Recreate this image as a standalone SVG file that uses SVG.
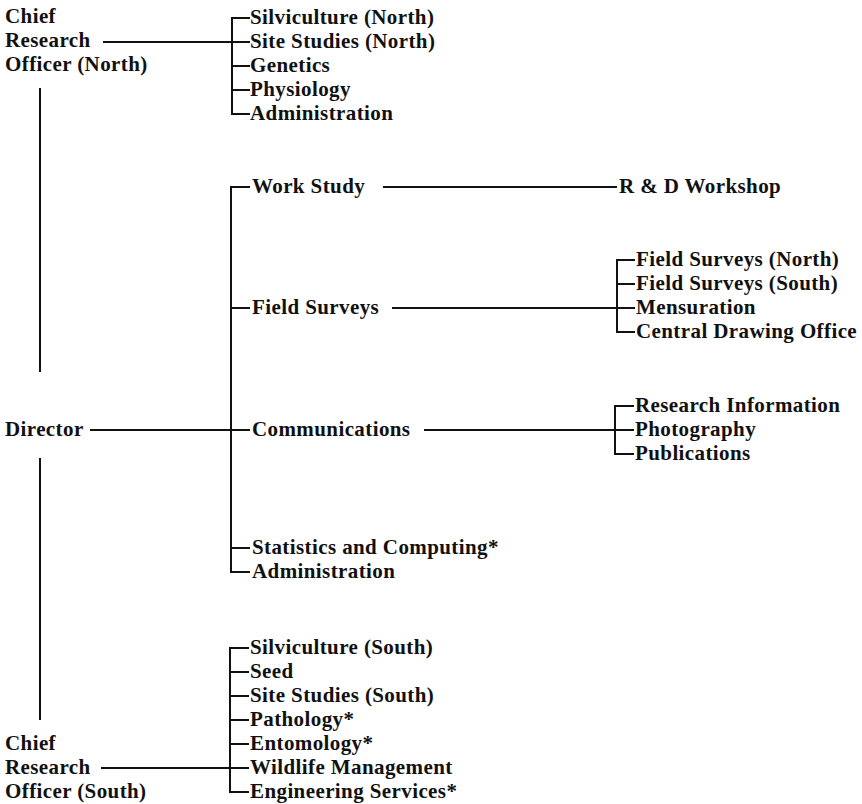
<svg xmlns="http://www.w3.org/2000/svg" width="862" height="804" viewBox="0 0 862 804">
<style>
text{font-family:"Liberation Serif","Times New Roman",serif;font-weight:bold;font-size:21px;letter-spacing:0.4px;fill:#111}
.c{stroke:#111;stroke-width:2;fill:none}
</style>
<rect width="862" height="804" fill="#fff"/>
<g id="connectors" class="c">
<path d="M40 88V372M40 458V720"/>
<path d="M103 42H232M250 18H232V114H250M232 42H250M232 66H250M232 90H250"/>
<path d="M90 430H231M250 187H231V572H250M231 308H250M231 430H250M231 548H250"/>
<path d="M383 187H617"/>
<path d="M392 308H617M635 260H617V332H635M617 284H635M617 308H635"/>
<path d="M424 430H615M634 406H615V454H634M615 430H634"/>
<path d="M101 768H230M249 648H230V792H249M230 672H249M230 696H249M230 720H249M230 744H249M230 768H249"/>
</g>
<g id="cro-north"><text x="5" y="23">Chief</text><text x="5" y="47">Research</text><text x="5" y="71">Officer (North)</text></g>
<g id="north-units"><text x="250" y="24">Silviculture (North)</text><text x="250" y="48">Site Studies (North)</text><text x="250" y="72">Genetics</text><text x="250" y="96">Physiology</text><text x="250" y="120">Administration</text></g>
<g id="director"><text x="5" y="436">Director</text></g>
<g id="work-study"><text x="252" y="193">Work Study</text></g>
<g id="rd-workshop"><text x="619" y="193">R &amp; D Workshop</text></g>
<g id="field-surveys"><text x="252" y="314">Field Surveys</text></g>
<g id="field-survey-units"><text x="636" y="266">Field Surveys (North)</text><text x="636" y="290">Field Surveys (South)</text><text x="636" y="314">Mensuration</text><text x="636" y="338">Central Drawing Office</text></g>
<g id="communications"><text x="252" y="436">Communications</text></g>
<g id="communications-units"><text x="635" y="412">Research Information</text><text x="635" y="436">Photography</text><text x="635" y="460">Publications</text></g>
<g id="statistics"><text x="252" y="554">Statistics and Computing*</text></g>
<g id="administration"><text x="252" y="578">Administration</text></g>
<g id="cro-south"><text x="5" y="750">Chief</text><text x="5" y="774">Research</text><text x="5" y="798">Officer (South)</text></g>
<g id="south-units"><text x="250" y="654">Silviculture (South)</text><text x="250" y="678">Seed</text><text x="250" y="702">Site Studies (South)</text><text x="250" y="726">Pathology*</text><text x="250" y="750">Entomology*</text><text x="250" y="774">Wildlife Management</text><text x="250" y="798">Engineering Services*</text></g>
</svg>
